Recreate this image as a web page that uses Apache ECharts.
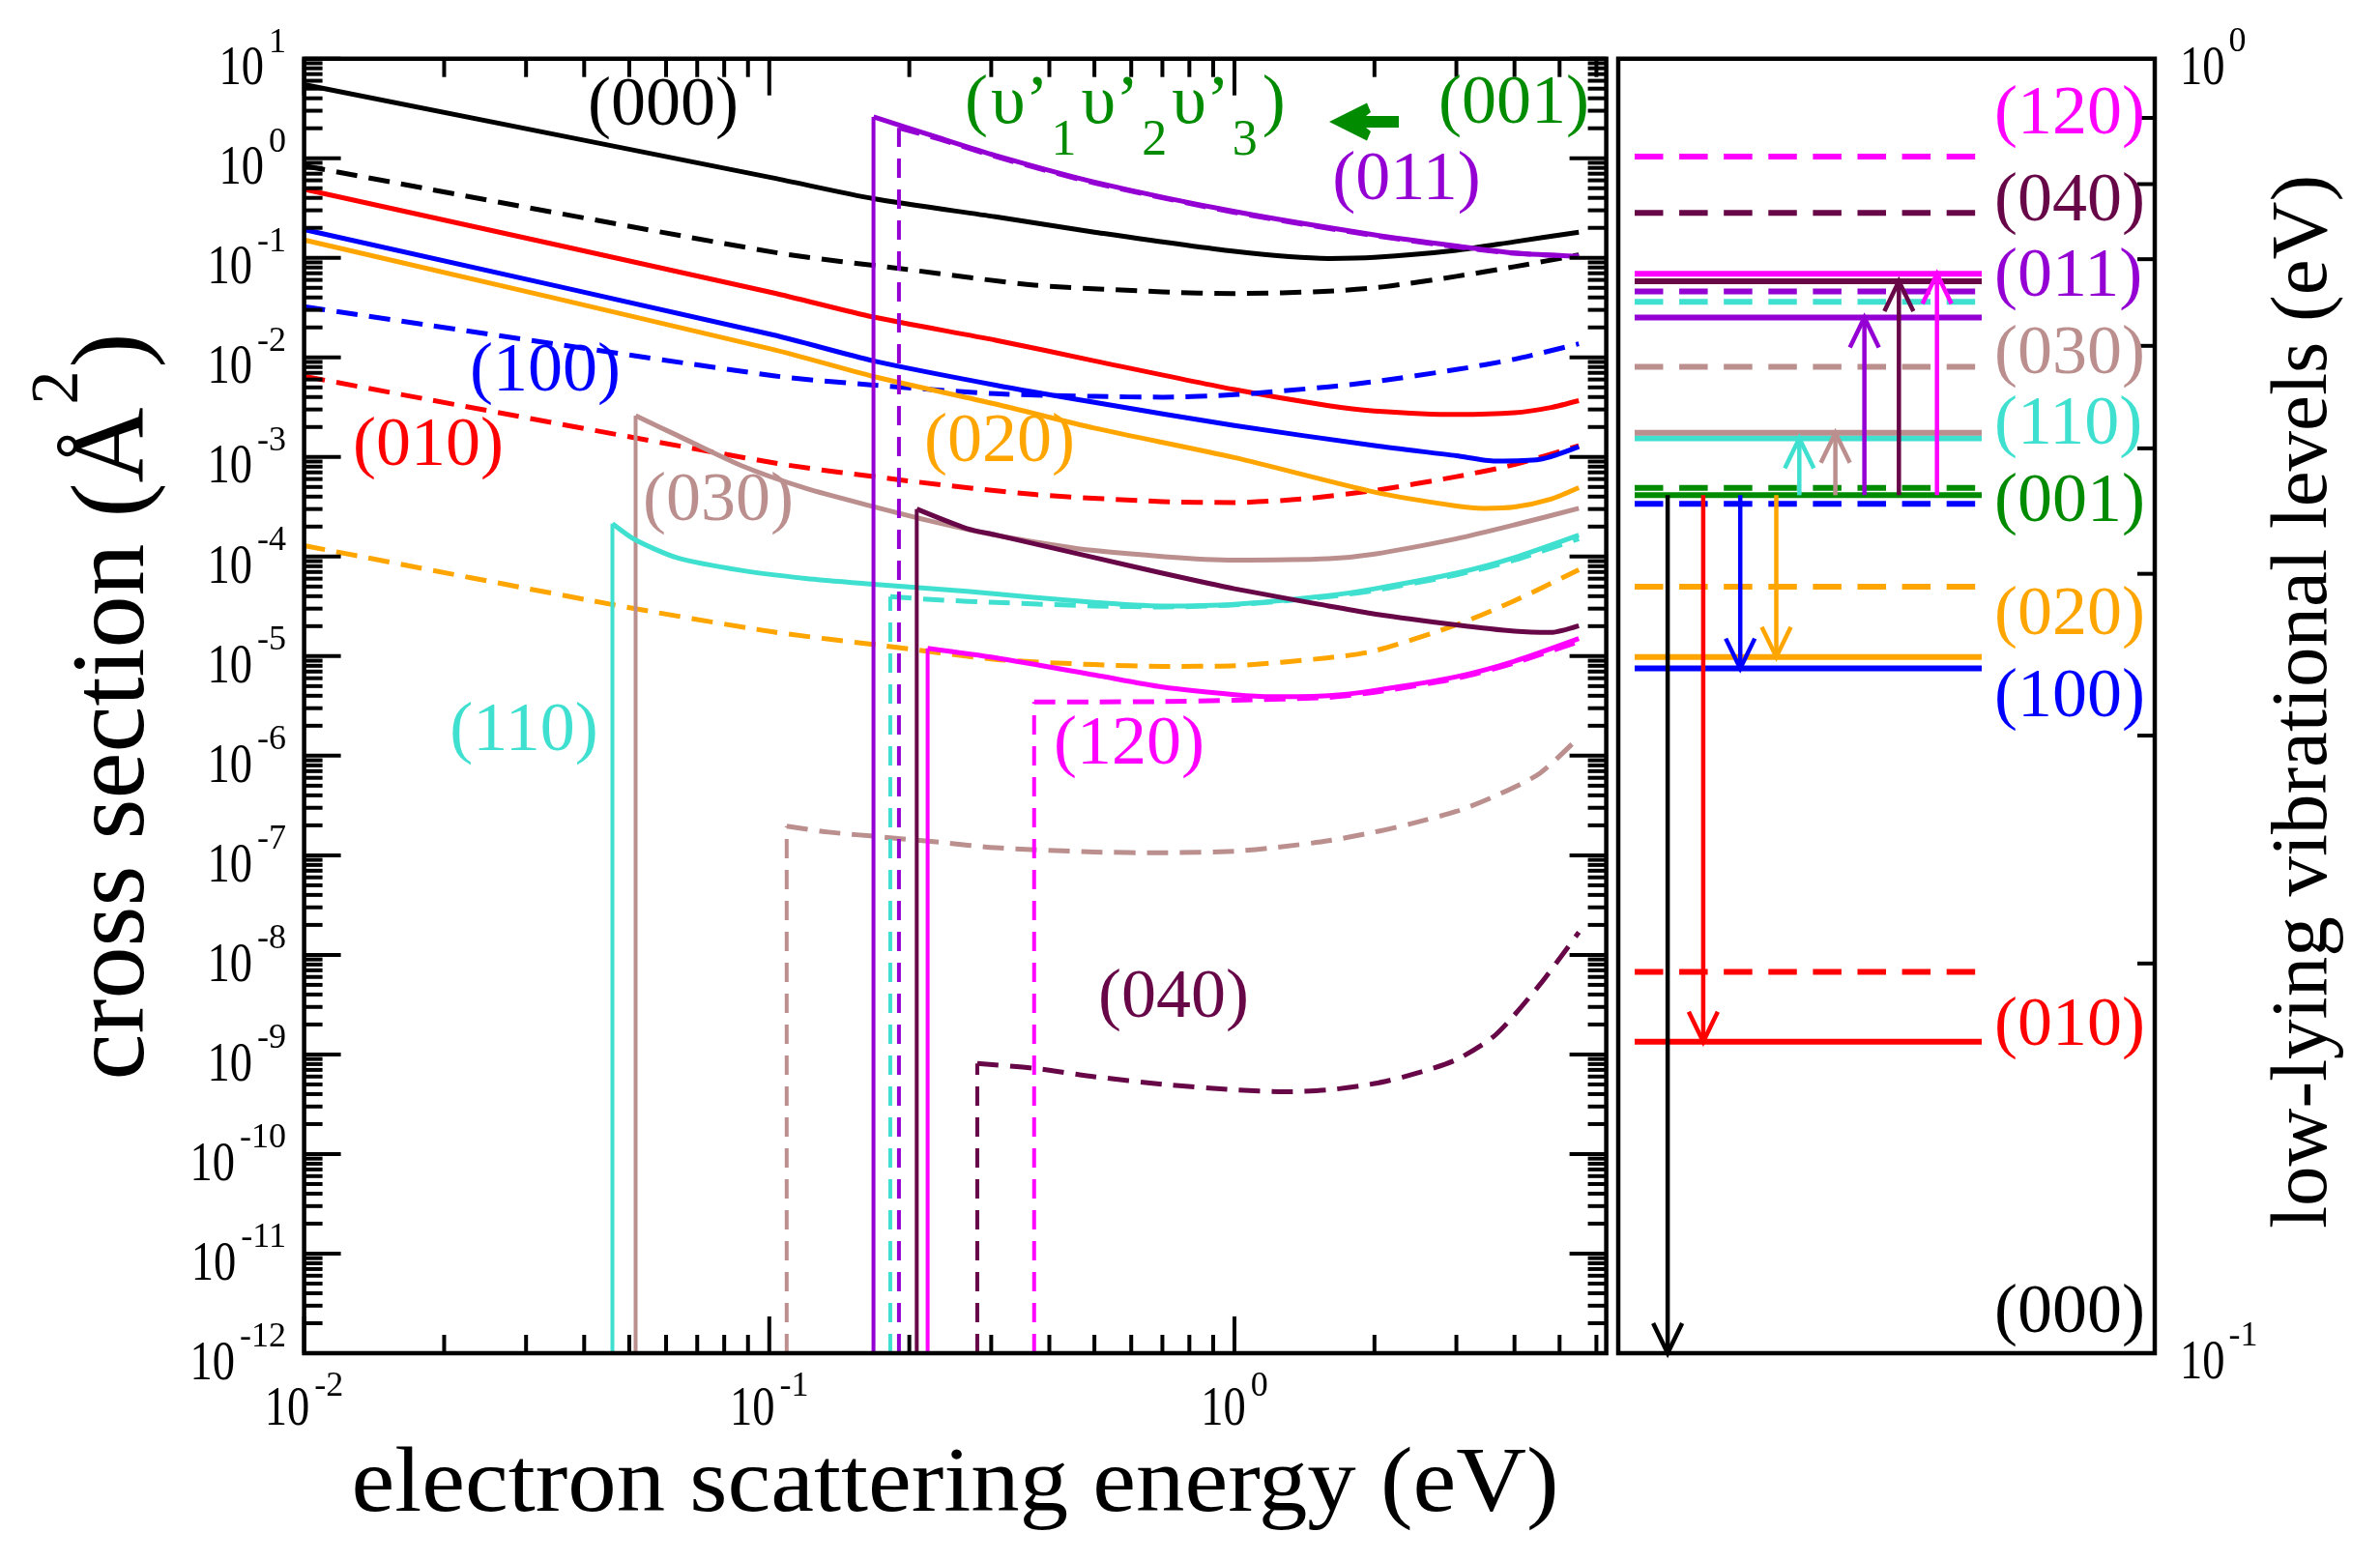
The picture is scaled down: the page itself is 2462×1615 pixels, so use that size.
<!DOCTYPE html>
<html>
<head>
<meta charset="utf-8">
<title>cross sections and vibrational levels</title>
<script src="https://cdn.jsdelivr.net/npm/echarts@6.0.0/dist/echarts.min.js"></script>
<style>
html,body{margin:0;padding:0;background:#ffffff;}
#chart{width:2462px;height:1615px;}
</style>
</head>
<body>
<div id="chart"></div>
<script>
// ================= DATA: left panel (cross section, Å^2, vs electron scattering energy, eV) =================
// final state (000)
const e000  = [0.01, 0.102, 0.1675, 0.3065, 0.5, 1.0, 1.594, 2.0, 3.0, 4.0, 5.5];
const s000  = [5.5, 0.634, 0.393, 0.258, 0.181, 0.116, 0.0986, 0.101, 0.119, 0.145, 0.181];
const e000d = [0.01, 0.102, 0.198, 0.3715, 0.7, 1.0, 1.594, 2.1, 3.0, 4.0, 5.5];
const s000d = [0.841, 0.114, 0.0764, 0.0533, 0.0455, 0.0438, 0.0462, 0.0513, 0.0652, 0.0815, 0.107];
// (010)
const e010  = [0.01, 0.102, 0.1675, 0.3065, 0.5, 1.0, 1.594, 2.0, 3.0, 4.0, 4.79, 5.5];
const s010  = [0.489, 0.0445, 0.0254, 0.0149, 0.00923, 0.00475, 0.00327, 0.0029, 0.00267, 0.00278, 0.00314, 0.00368];
const e010d = [0.01, 0.102, 0.198, 0.3715, 0.7, 1.0, 1.39, 2.0, 3.0, 4.0, 5.5];
const s010d = [0.00646, 8.75e-4, 5.77e-4, 4.20e-4, 3.57e-4, 3.49e-4, 3.78e-4, 4.61e-4, 6.35e-4, 8.39e-4, 1.30e-3];
// (100)
const e100  = [0.01, 0.102, 0.1675, 0.3065, 0.5, 1.0, 2.0, 3.0, 3.64, 4.53, 5.5];
const s100  = [0.192, 0.0168, 0.00923, 0.00527, 0.00354, 0.00207, 0.0013, 0.00103, 9.1e-4, 9.46e-4, 1.27e-3];
const e100d = [0.01, 0.102, 0.1675, 0.3065, 0.5, 0.7, 1.0, 1.594, 2.0, 3.0, 4.0, 5.5];
const s100d = [0.0324, 0.00655, 0.00527, 0.00432, 0.00406, 0.00399, 0.00422, 0.00507, 0.00571, 0.00755, 0.0096, 0.0137];
// (020)
const e020  = [0.01, 0.102, 0.1675, 0.3065, 0.5, 1.0, 2.0, 3.0, 3.44, 4.0, 4.79, 5.5];
const s020  = [0.151, 0.012, 0.00644, 0.0034, 0.00195, 9.86e-4, 4.44e-4, 3.22e-4, 3.05e-4, 3.15e-4, 3.78e-4, 4.92e-4];
const e020d = [0.01, 0.0456, 0.102, 0.177, 0.3065, 0.5, 0.7, 1.0, 1.594, 2.0, 3.0, 4.0, 5.5];
const s020d = [1.29e-4, 3.32e-5, 1.75e-5, 1.27e-5, 9.27e-6, 8.22e-6, 7.89e-6, 8.02e-6, 9.64e-6, 1.13e-5, 2.06e-5, 3.60e-5, 7.38e-5];
// (030)  (first point = threshold)
const e030  = [0.0516, 0.0632, 0.0871, 0.1197, 0.165, 0.227, 0.3065, 0.5, 1.0, 1.594, 2.0, 3.0, 4.0, 5.5];
const s030  = [2.6e-3, 1.66e-3, 8.18e-4, 4.85e-4, 3.23e-4, 2.22e-4, 1.64e-4, 1.15e-4, 9.23e-5, 9.53e-5, 1.06e-4, 1.51e-4, 2.08e-4, 3.05e-4];
const e030d = [0.109, 0.134, 0.177, 0.233, 0.3065, 0.5, 0.7, 1.0, 1.21, 1.594, 2.0, 2.4, 3.0, 3.64, 4.53, 5.5];
const s030d = [1.96e-7, 1.71e-7, 1.52e-7, 1.35e-7, 1.19e-7, 1.08e-7, 1.06e-7, 1.10e-7, 1.19e-7, 1.40e-7, 1.71e-7, 2.08e-7, 2.76e-7, 3.95e-7, 6.64e-7, 1.53e-6];
// (110)
const e110  = [0.046, 0.0514, 0.0632, 0.0871, 0.1197, 0.165, 0.266, 0.5, 0.7, 1.0, 1.594, 2.0, 3.0, 4.0, 5.5];
const s110  = [2.14e-4, 1.48e-4, 9.77e-5, 7.26e-5, 6.03e-5, 5.31e-5, 4.47e-5, 3.46e-5, 3.19e-5, 3.32e-5, 4.06e-5, 4.75e-5, 6.81e-5, 9.77e-5, 1.64e-4];
const e110d = [0.182, 0.233, 0.3065, 0.5, 0.7, 1.0, 1.594, 2.0, 3.0, 4.0, 5.5];
const s110d = [3.96e-5, 3.66e-5, 3.46e-5, 3.19e-5, 3.12e-5, 3.27e-5, 3.96e-5, 4.57e-5, 6.55e-5, 9.23e-5, 1.51e-4];
// (011)
const e011  = [0.1675, 0.233, 0.3065, 0.5, 1.0, 2.0, 3.0, 4.0, 5.5];
const s011  = [2.6, 1.59, 1.067, 0.577, 0.292, 0.17, 0.1315, 0.112, 0.1035];
const e011d = [0.19, 0.233, 0.3065, 0.5, 1.0, 2.0, 3.0, 4.0, 5.5];
const s011d = [2.02, 1.55, 1.04, 0.565, 0.286, 0.167, 0.129, 0.111, 0.1035];
// (040)
const e040  = [0.2075, 0.266, 0.3065, 0.5, 0.7, 1.0, 1.594, 2.0, 3.0, 4.0, 4.79, 5.5];
const s040  = [3.0e-4, 1.91e-4, 1.65e-4, 9.77e-5, 6.81e-5, 4.75e-5, 3.19e-5, 2.65e-5, 2.06e-5, 1.78e-5, 1.73e-5, 2.02e-5];
const e040d = [0.28, 0.3715, 0.5, 0.7, 1.0, 1.28, 1.594, 2.0, 2.4, 3.0, 3.64, 4.53, 5.5];
const s040d = [8.1e-10, 7.26e-10, 5.98e-10, 5.02e-10, 4.41e-10, 4.22e-10, 4.41e-10, 5.1e-10, 6.25e-10, 8.87e-10, 1.57e-9, 5.0e-9, 1.69e-8];
// (120)
const e120  = [0.219, 0.3065, 0.5, 0.7, 1.0, 1.21, 1.594, 2.0, 3.0, 4.0, 5.5];
const s120  = [1.2e-5, 9.64e-6, 6.47e-6, 4.89e-6, 4.10e-6, 3.91e-6, 4.01e-6, 4.52e-6, 6.21e-6, 8.89e-6, 1.50e-5];
const e120d = [0.371, 0.5, 0.7, 1.0, 1.594, 2.0, 3.0, 4.0, 5.5];
const s120d = [3.47e-6, 3.47e-6, 3.50e-6, 3.61e-6, 3.85e-6, 4.34e-6, 5.97e-6, 8.55e-6, 1.40e-5];

// ================= DATA: right panel (low-lying vibrational levels, eV) =================
const levelNames  = ['(010)', '(100)', '(020)', '(001)', '(110)', '(030)', '(011)', '(040)', '(120)'];
const levelSolid  = [0.174, 0.338, 0.345, 0.460, 0.509, 0.514, 0.631, 0.673, 0.682];
const levelDashed = [0.197, 0.453, 0.391, 0.466, 0.649, 0.578, 0.661, 0.760, 0.840];
const arrowFromLevel = '(001)';
const arrowTargets = ['(000)', '(010)', '(100)', '(020)', '(110)', '(030)', '(011)', '(040)', '(120)'];

// axis ranges / tick labels
const X_MIN = 0.01, X_MAX = 6.3, Y_MIN = 1e-12, Y_MAX = 10;
const LV_MIN = 0.1, LV_MAX = 1;
const xLabelExps = [-2, -1, 0];
const yLabelExps = [1, 0, -1, -2, -3, -4, -5, -6, -7, -8, -9, -10, -11, -12];
const lvLabelExps = [0, -1];

// ================= STYLE / LAYOUT =================
const COLORS = {
  '(000)': '#000000', '(010)': '#ff0000', '(100)': '#0000ff', '(020)': '#ffa500',
  '(001)': '#008b00', '(110)': '#40e0d0', '(030)': '#bc8f8f', '(011)': '#9400d3',
  '(040)': '#670748', '(120)': '#ff00ff'
};
const FAMILY = '"Liberation Serif", "Times New Roman", Times, serif';
const G0 = {left: 314.6, top: 60.7, width: 1347, height: 1339.3};
const G1 = {left: 1674, top: 60.7, width: 555, height: 1339.3};
const LV_X0 = 0.0306, LV_X1 = 0.6775;           // level line extent (fraction of panel width)
const ARROW_X = [0.0921, 0.1584, 0.2274, 0.2946, 0.3375, 0.4047, 0.4588, 0.5231, 0.5941];
const LW = 5;

const curves = [
  {x: e000,  y: s000,  n: '(000)', dash: false, thr: false},
  {x: e000d, y: s000d, n: '(000)', dash: true,  thr: false},
  {x: e010,  y: s010,  n: '(010)', dash: false, thr: false},
  {x: e010d, y: s010d, n: '(010)', dash: true,  thr: false},
  {x: e100,  y: s100,  n: '(100)', dash: false, thr: false},
  {x: e100d, y: s100d, n: '(100)', dash: true,  thr: false},
  {x: e020,  y: s020,  n: '(020)', dash: false, thr: false},
  {x: e020d, y: s020d, n: '(020)', dash: true,  thr: false},
  {x: e030,  y: s030,  n: '(030)', dash: false, thr: true},
  {x: e030d, y: s030d, n: '(030)', dash: true,  thr: true},
  {x: e110,  y: s110,  n: '(110)', dash: false, thr: true},
  {x: e110d, y: s110d, n: '(110)', dash: true,  thr: true},
  {x: e040,  y: s040,  n: '(040)', dash: false, thr: true},
  {x: e040d, y: s040d, n: '(040)', dash: true,  thr: true},
  {x: e120,  y: s120,  n: '(120)', dash: false, thr: true},
  {x: e120d, y: s120d, n: '(120)', dash: true,  thr: true},
  {x: e011,  y: s011,  n: '(011)', dash: false, thr: true},
  {x: e011d, y: s011d, n: '(011)', dash: true,  thr: true}
];

const series = [];
curves.forEach(cv => {
  const col = COLORS[cv.n];
  const ls = {color: col, width: LW, type: cv.dash ? [22, 12] : 'solid', cap: 'butt', join: 'round'};
  if (cv.thr) {
    series.push({type: 'line', xAxisIndex: 0, yAxisIndex: 0, symbol: 'none', silent: true,
      data: [[cv.x[0], Y_MIN], [cv.x[0], cv.y[0]]],
      lineStyle: Object.assign({}, ls, {width: 4, type: cv.dash ? [20, 12] : 'solid'}), itemStyle: {color: col}, z: 3});
  }
  series.push({type: 'line', xAxisIndex: 0, yAxisIndex: 0, symbol: 'none', silent: true,
    smooth: 0.25,
    data: cv.x.map((v, i) => [v, cv.y[i]]), lineStyle: ls, itemStyle: {color: col}, z: 3});
});

// energy levels
levelNames.forEach((n, i) => {
  series.push({type: 'line', xAxisIndex: 1, yAxisIndex: 1, symbol: 'none', silent: true,
    data: [[LV_X0, levelDashed[i]], [LV_X1, levelDashed[i]]],
    lineStyle: {color: COLORS[n], width: 6, type: [29.5, 16.6], cap: 'butt'}, itemStyle: {color: COLORS[n]}, z: 3});
});
levelNames.forEach((n, i) => {
  series.push({type: 'line', xAxisIndex: 1, yAxisIndex: 1, symbol: 'none', silent: true,
    data: [[LV_X0, levelSolid[i]], [LV_X1, levelSolid[i]]],
    lineStyle: {color: COLORS[n], width: 6, type: 'solid'}, itemStyle: {color: COLORS[n]}, z: 4});
});
// transitions (arrows)
const fromE = levelSolid[levelNames.indexOf(arrowFromLevel)];
const arrowData = arrowTargets.map((n, i) => {
  const to = n === '(000)' ? LV_MIN : levelSolid[levelNames.indexOf(n)];
  return [ARROW_X[i], fromE, to];
});
series.push({
  type: 'custom', xAxisIndex: 1, yAxisIndex: 1, silent: true, clip: false, z: 6,
  data: arrowData,
  renderItem: function (params, api) {
    const x = api.value(0), y0 = api.value(1), y1 = api.value(2);
    const p0 = api.coord([x, y0]), p1 = api.coord([x, y1]);
    const dir = p1[1] > p0[1] ? 1 : -1;
    const col = COLORS[arrowTargets[params.dataIndex]];
    const lw = 4.5;
    return {type: 'group', children: [
      {type: 'line', shape: {x1: p0[0], y1: p0[1], x2: p1[0], y2: p1[1]}, style: {stroke: col, lineWidth: lw}},
      {type: 'polyline', shape: {points: [[p1[0] - 15, p1[1] - dir * 31], [p1[0], p1[1]], [p1[0] + 15, p1[1] - dir * 31]]},
        style: {stroke: col, fill: null, lineWidth: lw}}
    ]};
  }
});

const hiddenAxis = {axisLine: {show: false}, axisTick: {show: false}, axisLabel: {show: false}, splitLine: {show: false}};
const option = {
  animation: false,
  backgroundColor: '#ffffff',
  grid: [
    Object.assign({show: true, borderColor: '#000', borderWidth: 4.5, backgroundColor: 'transparent', containLabel: false, outerBoundsMode: 'none', z: 5}, G0),
    Object.assign({show: true, borderColor: '#000', borderWidth: 4.5, backgroundColor: 'transparent', containLabel: false, outerBoundsMode: 'none', z: 5}, G1)
  ],
  xAxis: [
    Object.assign({type: 'log', logBase: 10, gridIndex: 0, min: X_MIN, max: X_MAX}, hiddenAxis),
    Object.assign({type: 'value', gridIndex: 1, min: 0, max: 1}, hiddenAxis)
  ],
  yAxis: [
    Object.assign({type: 'log', logBase: 10, gridIndex: 0, min: Y_MIN, max: Y_MAX}, hiddenAxis),
    Object.assign({type: 'log', logBase: 10, gridIndex: 1, min: LV_MIN, max: LV_MAX}, hiddenAxis)
  ],
  series: series
};

const chart = echarts.init(document.getElementById('chart'), null, {renderer: 'canvas', width: 2462, height: 1615});
chart.setOption(option);

// ================= decorations: ticks, tick labels, titles, annotations =================
const mctx = document.createElement('canvas').getContext('2d');
function tw(s, size) { mctx.font = size + 'px "Liberation Serif"'; return mctx.measureText(s).width; }
function T(x, y, s, size, color, align, extra) {
  return Object.assign({type: 'text', x: x, y: y, silent: true, z: 50,
    style: {text: s, fill: color, fontSize: size, fontFamily: FAMILY,
      textAlign: align, align: align, textVerticalAlign: 'middle', verticalAlign: 'middle'}}, extra || {});
}
function Ln(x1, y1, x2, y2, w) {
  return {type: 'line', silent: true, z: 40, shape: {x1: x1, y1: y1, x2: x2, y2: y2}, style: {stroke: '#000', lineWidth: w || 4}};
}
const P0 = (x, y) => chart.convertToPixel({gridIndex: 0}, [x, y]);
const P1 = (x, y) => chart.convertToPixel({gridIndex: 1}, [x, y]);
const g = [];
const L = G0.left, R = G0.left + G0.width, TOP = G0.top, B = G0.top + G0.height;
const MAJ = 38, MIN = 19;

// left panel x ticks (bottom + top)
for (let e = -2; e <= 0; e++) {
  for (let k = 1; k <= 9; k++) {
    const v = k * Math.pow(10, e);
    if (v > X_MAX) continue;
    const p = P0(v, 1)[0];
    const len = k === 1 ? MAJ : MIN;
    g.push(Ln(p, B, p, B - len));
    g.push(Ln(p, TOP, p, TOP + len));
  }
}
// left panel y ticks (left + right)
for (let e = -12; e <= 1; e++) {
  for (let k = 1; k <= 9; k++) {
    const v = k * Math.pow(10, e);
    if (v > Y_MAX * 1.0001) continue;
    const p = P0(1, v)[1];
    const len = k === 1 ? MAJ : MIN;
    g.push(Ln(L, p, L + len, p));
    g.push(Ln(R, p, R - len, p));
  }
}
// right panel ticks (right side only)
const R1 = G1.left + G1.width;
for (let k = 2; k <= 9; k++) {
  const p = P1(0.5, k * 0.1)[1];
  g.push(Ln(R1, p, R1 - 18, p));
}

const TEN = 56, SUP = 36, SX = 0.83;
const tenW = tw('10', TEN) * SX;
// y tick labels (left panel)
yLabelExps.forEach(e => {
  const py = P0(1, Math.pow(10, e))[1];
  const sup = String(e);
  const sw = tw(sup, SUP);
  g.push(T(296, py - 16, sup, SUP, '#000', 'right'));
  g.push(T(296 - sw - 5, py + 12, '10', TEN, '#000', 'right', {scaleX: SX}));
});
// x tick labels (left panel)
xLabelExps.forEach(e => {
  const px = P0(Math.pow(10, e), 1)[0];
  const sup = String(e);
  const sw = tw(sup, SUP);
  const W = tenW + 5 + sw;
  const x0 = px - W / 2;
  g.push(T(x0, B + 59.5, '10', TEN, '#000', 'left', {scaleX: SX}));
  g.push(T(x0 + tenW + 5, B + 35, sup, SUP, '#000', 'left'));
});
// right panel tick labels
lvLabelExps.forEach(e => {
  const py = P1(0.5, Math.pow(10, e))[1];
  g.push(T(2255, py + 11.5, '10', TEN, '#000', 'left', {scaleX: SX}));
  g.push(T(2255 + tenW + 4, py - 17.5, String(e), SUP, '#000', 'left'));
});

// axis titles
g.push(T(988, 1538, 'electron scattering energy (eV)', 96, '#000', 'center', {scaleX: 1.05}));
(function () {
  const s1 = 'cross section (Å', s2 = '2', s3 = ')';
  const F = 108, FS = 70;
  const w1 = tw(s1, F), w2 = tw(s2, FS), w3 = tw(s3, F);
  const W = w1 + 3 + w2 + 3 + w3;
  g.push({type: 'group', x: 120, y: 731, rotation: Math.PI / 2, silent: true, z: 50, children: [
    T(-W / 2, 0, s1, F, '#000', 'left'),
    T(-W / 2 + w1 + 3, -58, s2, FS, '#000', 'left'),
    T(-W / 2 + w1 + 3 + w2 + 3, 0, s3, F, '#000', 'left')
  ]});
})();
g.push({type: 'group', x: 2384, y: 726, rotation: Math.PI / 2, silent: true, z: 50, children: [
  T(0, 0, 'low-lying vibrational levels (eV)', 83, '#000', 'center')
]});

// labels in left panel
const LAB = 72;
const leftLabels = [
  ['(000)', 686, 110], ['(001)', 1566, 108], ['(011)', 1455, 187], ['(100)', 564, 385],
  ['(010)', 443, 462], ['(030)', 743, 519], ['(020)', 1034, 458], ['(110)', 542, 757],
  ['(120)', 1168, 771], ['(040)', 1214, 1033]
];
leftLabels.forEach(l => g.push(T(l[1], l[2], l[0], LAB, COLORS[l[0]], 'center')));
// (υ'1 υ'2 υ'3) label
(function () {
  const GRN = COLORS['(001)'];
  let x = 998; const y = 108, SUB = 52;
  const parts = [['(', false], ['υ’', false], ['1', true], ['υ’', false], ['2', true], ['υ’', false], ['3', true], [')', false]];
  parts.forEach(p => {
    const sz = p[1] ? SUB : LAB;
    g.push(T(x, p[1] ? y + 38 : y, p[0], sz, GRN, 'left'));
    x += tw(p[0], sz) + (p[1] ? 5 : 3);
  });
})();
// green arrow
g.push({type: 'polygon', silent: true, z: 50,
  shape: {points: [[1375, 126], [1414, 106.5], [1418, 116], [1413, 120], [1447, 120], [1447, 132], [1413, 132], [1418, 136], [1414, 145.5]]},
  style: {fill: COLORS['(001)']}});

// labels in right panel
const rightLabels = [
  ['(120)', 119.4], ['(040)', 208.7], ['(011)', 287.5], ['(030)', 367], ['(110)', 440],
  ['(001)', 520.5], ['(020)', 637], ['(100)', 722], ['(010)', 1062.5], ['(000)', 1358.7]
];
rightLabels.forEach(l => g.push(T(2063, l[1], l[0], LAB, COLORS[l[0]], 'left')));

chart.setOption({graphic: {elements: g}});
</script>
</body>
</html>
